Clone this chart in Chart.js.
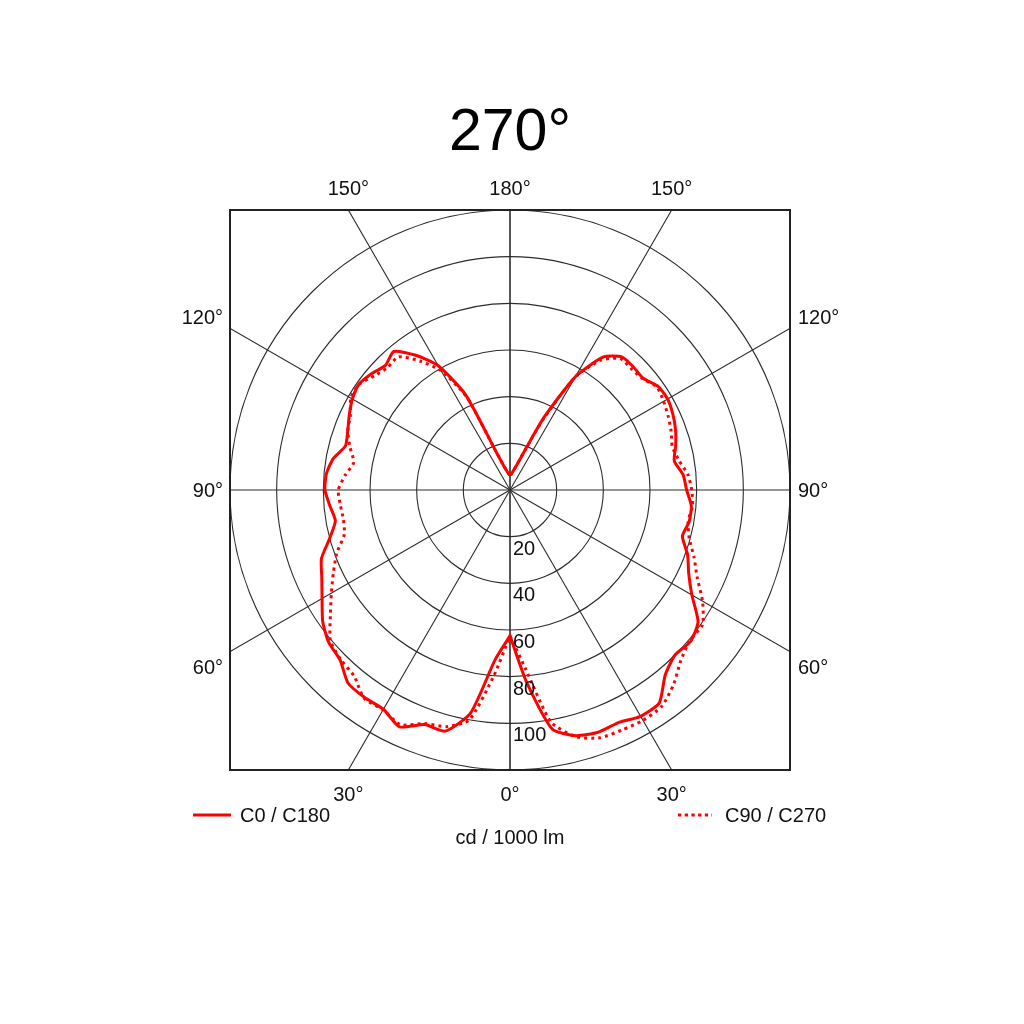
<!DOCTYPE html>
<html>
<head>
<meta charset="utf-8">
<script src="https://cdn.jsdelivr.net/npm/chart.js@4.4.1/dist/chart.umd.min.js"></script>
<style>
  html, body { margin: 0; padding: 0; background: #fff; }
  #wrap { width: 1024px; height: 1024px; }
</style>
</head>
<body>
<div id="wrap"><canvas id="polar" width="1024" height="1024"></canvas></div>
<script>
// gamma angles (0 = straight down, 180 = straight up), cd / 1000 lm
var gammaAngles = [0, 5, 10, 15, 20, 25, 30, 35, 40, 45, 50, 55, 60, 65, 70, 75, 80, 85, 90,
                   95, 100, 105, 110, 115, 120, 125, 130, 135, 140, 145, 150, 155, 160, 165, 170, 175, 180];

// solid: C0 on the right half, C180 on the left half
var c0   = [62.5, 83, 104, 109, 110.5, 110, 112, 111.5, 103.5, 100, 101, 98.4, 90, 84.5, 81, 76.5, 78, 78, 75.7,
            74.5, 71.5, 73.5, 75.5, 77, 78, 77.5, 74.5, 74.7, 74.5, 69.5, 56, 34, 17, 11, 8.5, 7, 6.4];
var c180 = [62.5, 73, 97, 107, 107, 112, 108.5, 108.6, 108, 103, 101.5, 98, 93, 89, 86, 80, 76, 77.5, 79.3,
            79, 77, 73, 74, 76, 78, 79, 77.5, 75.5, 77.5, 70.5, 61.5, 45, 17.5, 11, 8.5, 7, 6.4];

// dotted: C90 on the right half, C270 on the left half
var c90  = [62.5, 77, 101, 109.5, 113, 113.5, 114, 113.3, 109, 103.5, 100.5, 100.7, 95.3, 88.5, 83.9, 79.5, 77.5, 78.5, 77.9,
            76.5, 73.5, 72, 73.5, 74.8, 76, 76.9, 74.2, 73.5, 73.5, 68, 56, 33, 17, 11, 8.5, 7, 6.4];
var c270 = [62.5, 80, 100, 105, 106.5, 111, 108.8, 109, 104, 102.7, 100.5, 94, 88.4, 83.5, 79, 73.5, 72.5, 73, 73.6,
            71, 68, 71, 74, 75.5, 78.8, 79, 76, 74.2, 74.5, 67.5, 59, 44, 17.5, 11, 8.5, 7, 6.4];

var ringValues = [20, 40, 60, 80, 100, 120];
var ringLabels = ['20', '40', '60', '80', '100'];
var spokeAngles = [0, 30, 60, 90, 120, 150, 180];
var titleText = '270°';
var unitText = 'cd / 1000 lm';
var legendNames = ['C0 / C180', 'C90 / C270'];

var red = '#ff0000';
var gridColor = '#2c2c2c';
var fontFamily = '"Liberation Sans", Arial, sans-serif';

// left half runs 180 -> 0, right half 0 -> 180, so the line is continuous
function toPoints(left, right) {
  var pts = [];
  for (var i = gammaAngles.length - 1; i >= 0; i--) {
    var g = gammaAngles[i] * Math.PI / 180;
    pts.push({x: -left[i] * Math.sin(g), y: -left[i] * Math.cos(g)});
  }
  for (var j = 0; j < gammaAngles.length; j++) {
    var g2 = gammaAngles[j] * Math.PI / 180;
    pts.push({x: right[j] * Math.sin(g2), y: -right[j] * Math.cos(g2)});
  }
  return pts;
}

var polarGrid = {
  id: 'polarGrid',
  beforeDatasetsDraw: function (chart) {
    var ctx = chart.ctx, area = chart.chartArea;
    var xs = chart.scales.x, ys = chart.scales.y;
    var cx = xs.getPixelForValue(0), cy = ys.getPixelForValue(0);
    ctx.save();
    ctx.beginPath();
    ctx.rect(area.left, area.top, area.right - area.left, area.bottom - area.top);
    ctx.clip();
    ctx.strokeStyle = gridColor;
    ctx.lineWidth = 1.1;
    ringValues.forEach(function (v) {
      var r = xs.getPixelForValue(v) - cx;
      ctx.beginPath();
      ctx.arc(cx, cy, r, 0, Math.PI * 2);
      ctx.stroke();
    });
    spokeAngles.forEach(function (a) {
      var g = a * Math.PI / 180;
      [-1, 1].forEach(function (side) {
        ctx.beginPath();
        ctx.moveTo(cx, cy);
        ctx.lineTo(xs.getPixelForValue(side * 200 * Math.sin(g)), ys.getPixelForValue(-200 * Math.cos(g)));
        ctx.stroke();
      });
    });
    ctx.restore();
  },
  afterDraw: function (chart) {
    var ctx = chart.ctx, area = chart.chartArea;
    var xs = chart.scales.x, ys = chart.scales.y;
    var cx = xs.getPixelForValue(0), cy = ys.getPixelForValue(0);
    var half = cy - area.top;
    var off = half * Math.tan(30 * Math.PI / 180);

    ctx.save();
    // frame
    ctx.strokeStyle = '#222';
    ctx.lineWidth = 2;
    ctx.strokeRect(area.left, area.top, area.right - area.left, area.bottom - area.top);

    // ring values below the centre
    ctx.fillStyle = '#111';
    ctx.font = '20px ' + fontFamily;
    ctx.textAlign = 'left';
    ctx.textBaseline = 'alphabetic';
    ringLabels.forEach(function (t, i) {
      ctx.fillText(t, cx + 3, ys.getPixelForValue(-ringValues[i]) + 18);
    });

    // angle labels round the frame
    ctx.textAlign = 'center';
    ctx.fillText('150°', cx - off, area.top - 15);
    ctx.fillText('180°', cx, area.top - 15);
    ctx.fillText('150°', cx + off, area.top - 15);
    ctx.fillText('30°', cx - off, area.bottom + 31);
    ctx.fillText('0°', cx, area.bottom + 31);
    ctx.fillText('30°', cx + off, area.bottom + 31);
    ctx.textAlign = 'right';
    ctx.fillText('120°', area.left - 7, cy - off - 4);
    ctx.fillText('90°', area.left - 7, cy + 7);
    ctx.fillText('60°', area.left - 7, cy + off + 22);
    ctx.textAlign = 'left';
    ctx.fillText('120°', area.right + 8, cy - off - 4);
    ctx.fillText('90°', area.right + 8, cy + 7);
    ctx.fillText('60°', area.right + 8, cy + off + 22);

    // title
    ctx.textAlign = 'center';
    ctx.font = '59px ' + fontFamily;
    ctx.fillStyle = '#000';
    ctx.fillText(titleText, cx, 150);

    // legend
    var ly = area.bottom + 45;
    ctx.strokeStyle = red;
    ctx.lineWidth = 3;
    ctx.beginPath();
    ctx.moveTo(193, ly);
    ctx.lineTo(231, ly);
    ctx.stroke();
    ctx.setLineDash([3.3, 3.4]);
    ctx.beginPath();
    ctx.moveTo(678, ly);
    ctx.lineTo(712, ly);
    ctx.stroke();
    ctx.setLineDash([]);
    ctx.font = '20px ' + fontFamily;
    ctx.fillStyle = '#111';
    ctx.textAlign = 'left';
    ctx.fillText(legendNames[0], 240, ly + 7);
    ctx.fillText(legendNames[1], 725, ly + 7);
    ctx.textAlign = 'center';
    ctx.fillText(unitText, cx, ly + 29);
    ctx.restore();
  }
};

var ctx = document.getElementById('polar').getContext('2d');
var chart = new Chart(ctx, {
  type: 'scatter',
  data: {
    datasets: [{
      label: legendNames[0],
      data: toPoints(c180, c0),
      showLine: true,
      borderColor: red,
      borderWidth: 3,
      pointRadius: 0,
      tension: 0.2,
      fill: false
    }, {
      label: legendNames[1],
      data: toPoints(c270, c90),
      showLine: true,
      borderColor: red,
      borderWidth: 3,
      borderDash: [3, 4],
      pointRadius: 0,
      tension: 0.2,
      fill: false
    }]
  },
  options: {
    responsive: false,
    animation: false,
    layout: { padding: { left: 230, top: 210, right: 234, bottom: 254 } },
    scales: {
      x: { type: 'linear', min: -120, max: 120, display: false },
      y: { type: 'linear', min: -120, max: 120, display: false }
    },
    plugins: {
      legend: { display: false },
      tooltip: { enabled: false }
    }
  },
  plugins: [polarGrid]
});
</script>
</body>
</html>
